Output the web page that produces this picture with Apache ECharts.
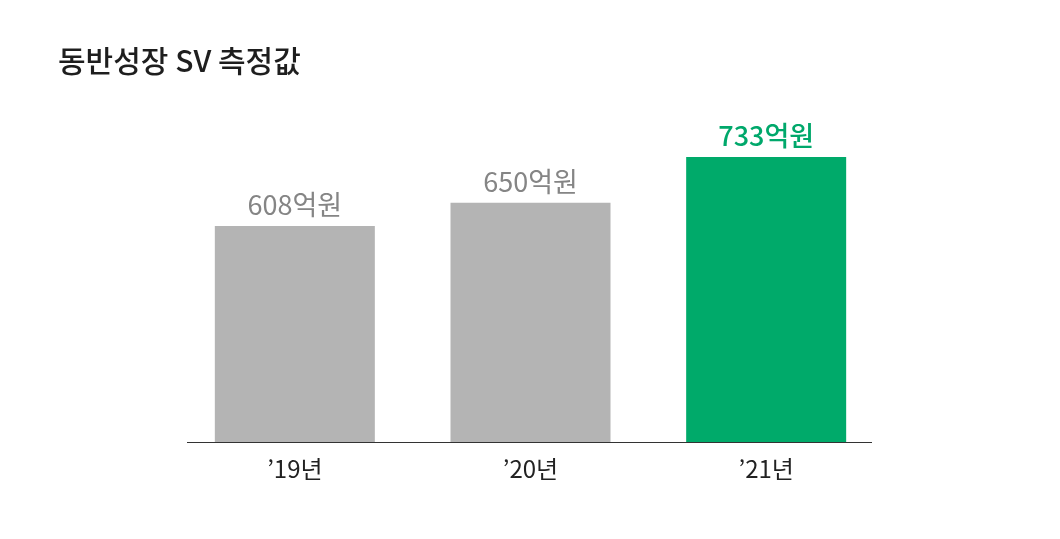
<!DOCTYPE html>
<html><head><meta charset="utf-8">
<script src="https://cdn.jsdelivr.net/npm/echarts@6/dist/echarts.min.js"></script>
<style>html,body{margin:0;padding:0;background:#fff}#c{width:1060px;height:539px}</style>
</head><body><div id="c"></div>
<script>
const categories = ['’19년', '’20년', '’21년'];
const values = [608, 650, 733];
const unit = '억원';
const title = '동반성장 SV 측정값';
const barColors = ['#b4b4b4', '#b4b4b4', '#00aa6a'];
const labelColors = ['#858585', '#858585', '#00a86b'];

const font = '"Noto Sans CJK KR", "Noto Sans", sans-serif';
const chart = echarts.init(document.getElementById('c'));
chart.setOption({
  animation: false,
  title: { text: title, left: 53, top: 41,
    textStyle: { fontFamily: font, fontSize: 30, fontWeight: 500, color: '#1e1e1e' } },
  grid: { left: 177, right: 176, top: 100, bottom: 97 },
  xAxis: { type: 'category', data: categories,
    axisLine: { show: false }, axisTick: { show: false },
    axisLabel: { fontFamily: font, fontSize: 24, color: '#222', margin: 15 } },
  yAxis: { type: 'value', min: 217, max: 836, show: false, splitLine: { show: false } },
  graphic: [{ type: 'line', shape: { x1: 187, y1: 442.5, x2: 872, y2: 442.5 },
    style: { stroke: '#333', lineWidth: 1.2 } }],
  series: [{
    type: 'bar', barWidth: 160,
    data: values.map((v, i) => ({ value: v,
      itemStyle: { color: barColors[i] },
      label: { color: labelColors[i], fontWeight: i === 2 ? 500 : 'normal' } })),
    label: { show: true, position: 'top', distance: 8, fontFamily: font, fontSize: 27,
      formatter: p => p.value + unit }
  }]
});
</script></body></html>
